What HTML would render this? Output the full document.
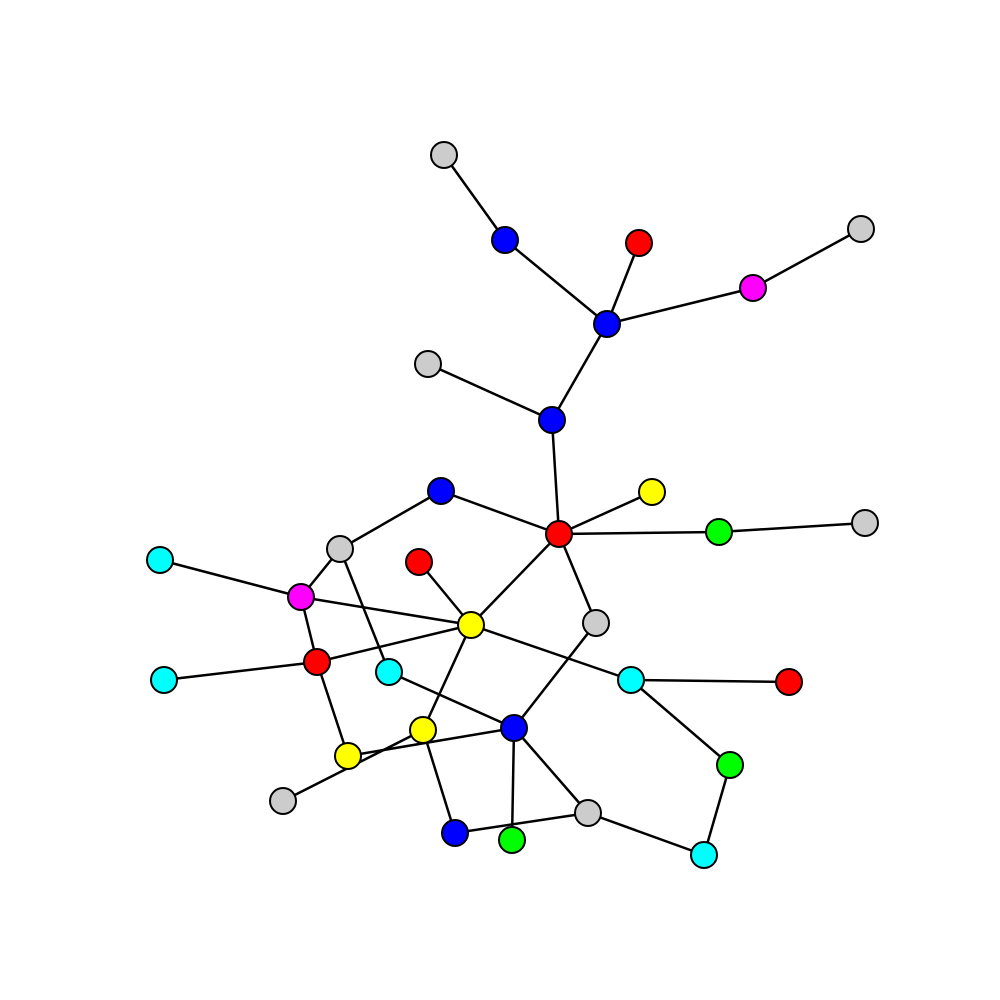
<!DOCTYPE html>
<html><head><meta charset="utf-8"><style>html,body{margin:0;padding:0;background:#fff;}svg{display:block}</style></head>
<body>
<svg id="g" width="1000" height="1000" viewBox="0 0 1000 1000"></svg>
<script>
const nodeX = [444,505,639,753,861,607,428,552,441,652,559,719,865,340,160,419,301,471,596,317,164,389,631,789,514,423,348,730,283,588,455,512,704];
const nodeY = [155,240,243,288,229,324,364,420,491,492,534,532,523,549,560,562,597,625,623,662,680,672,680,682,728,730,756,765,801,813,833,840,855];
const nodeColor = ["#cccccc","#0000ff","#ff0000","#ff00ff","#cccccc","#0000ff","#cccccc","#0000ff","#0000ff","#ffff00","#ff0000","#00ff00","#cccccc","#cccccc","#00ffff","#ff0000","#ff00ff","#ffff00","#cccccc","#ff0000","#00ffff","#00ffff","#00ffff","#ff0000","#0000ff","#ffff00","#ffff00","#00ff00","#cccccc","#cccccc","#0000ff","#00ff00","#00ffff"];
const edgeFrom = [0,1,2,5,3,5,6,7,8,8,10,10,11,10,10,13,13,14,16,16,15,17,17,17,19,19,21,18,22,22,27,29,24,24,26,25,30,28];
const edgeTo   = [1,5,5,3,4,7,7,10,10,13,9,11,12,17,18,16,21,16,17,19,17,19,22,25,20,26,24,24,23,27,32,32,29,31,24,30,29,25];
const svg = document.getElementById('g');
const NS = 'http://www.w3.org/2000/svg';
for (let i = 0; i < edgeFrom.length; i++) {
  const l = document.createElementNS(NS, 'line');
  l.setAttribute('x1', nodeX[edgeFrom[i]]); l.setAttribute('y1', nodeY[edgeFrom[i]]);
  l.setAttribute('x2', nodeX[edgeTo[i]]); l.setAttribute('y2', nodeY[edgeTo[i]]);
  l.setAttribute('stroke', '#000'); l.setAttribute('stroke-width', '2.5');
  
  
  svg.appendChild(l);
}
for (let i = 0; i < nodeX.length; i++) {
  const c = document.createElementNS(NS, 'circle');
  c.setAttribute('cx', nodeX[i]); c.setAttribute('cy', nodeY[i]); c.setAttribute('r', 13);
  c.setAttribute('fill', nodeColor[i]); c.setAttribute('stroke', '#000'); c.setAttribute('stroke-width', '2');
  
  
  svg.appendChild(c);
}
</script>
</body></html>
